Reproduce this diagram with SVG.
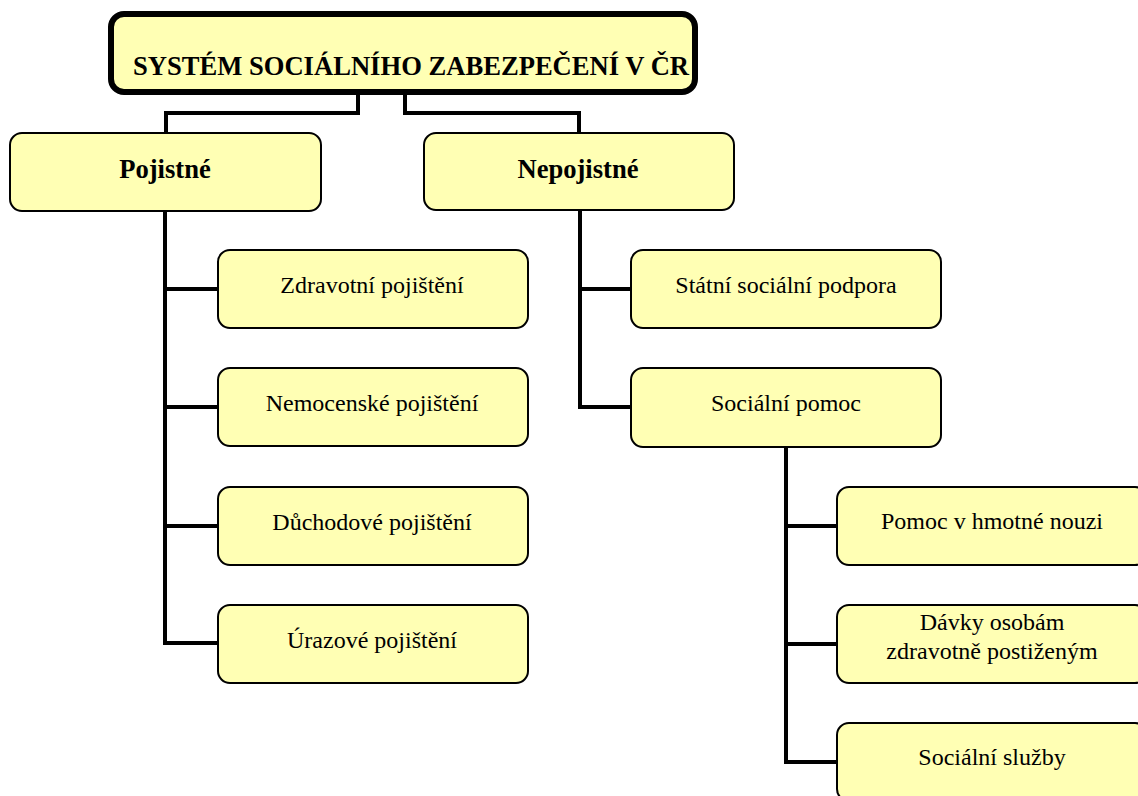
<svg xmlns="http://www.w3.org/2000/svg" width="1138" height="796" viewBox="0 0 1138 796">
<style>
.box{fill:#FFFFB4;stroke:#000;stroke-width:2}
.top{fill:#FFFFB4;stroke:#000;stroke-width:6}
.conn{fill:none;stroke:#000;stroke-width:4;stroke-linejoin:miter;stroke-linecap:square}
text{font-family:"Liberation Serif","Times New Roman",serif;fill:#000;text-anchor:middle}
.t{font-size:24px}
.b{font-size:26.6px;font-weight:bold}
</style>
<rect width="1138" height="796" fill="#fff"/>
<g id="connectors">
<path class="conn" d="M358,95 V113 H166 V132"/>
<path class="conn" d="M405,95 V113 H579 V132"/>
<path class="conn" d="M165,211 V643 H217 M165,289 H217 M165,407 H217 M165,526 H217"/>
<path class="conn" d="M580,210 V407 H631 M580,289 H631"/>
<path class="conn" d="M786,447 V762 H837 M786,526 H837 M786,644 H837"/>
</g>
<g id="root">
<rect class="top" x="111" y="14" width="584" height="78" rx="13"/>
<text class="b" x="411" y="75">SYSTÉM SOCIÁLNÍHO ZABEZPEČENÍ V ČR</text>
</g>
<g id="pojistne">
<rect class="box" x="10" y="133" width="311" height="78" rx="12"/>
<text class="b" x="165" y="178">Pojistné</text>
</g>
<g id="nepojistne">
<rect class="box" x="424" y="133" width="310" height="77" rx="12"/>
<text class="b" x="578" y="178">Nepojistné</text>
</g>
<g id="zdravotni">
<rect class="box" x="218" y="250" width="310" height="78" rx="12"/>
<text class="t" x="372" y="293">Zdravotní pojištění</text>
</g>
<g id="nemocenske">
<rect class="box" x="218" y="368" width="310" height="78" rx="12"/>
<text class="t" x="372" y="411">Nemocenské pojištění</text>
</g>
<g id="duchodove">
<rect class="box" x="218" y="487" width="310" height="78" rx="12"/>
<text class="t" x="372" y="530">Důchodové pojištění</text>
</g>
<g id="urazove">
<rect class="box" x="218" y="605" width="310" height="78" rx="12"/>
<text class="t" x="372" y="648">Úrazové pojištění</text>
</g>
<g id="statni">
<rect class="box" x="631" y="250" width="310" height="78" rx="12"/>
<text class="t" x="786" y="293">Státní sociální podpora</text>
</g>
<g id="socialni-pomoc">
<rect class="box" x="631" y="368" width="310" height="79" rx="12"/>
<text class="t" x="786" y="411">Sociální pomoc</text>
</g>
<g id="hmotna-nouze">
<rect class="box" x="837" y="487" width="310" height="78" rx="12"/>
<text class="t" x="992" y="529">Pomoc v hmotné nouzi</text>
</g>
<g id="davky">
<rect class="box" x="837" y="605" width="310" height="78" rx="12"/>
<text class="t" x="992" y="630">Dávky osobám</text>
<text class="t" x="992" y="659">zdravotně postiženým</text>
</g>
<g id="sluzby">
<rect class="box" x="837" y="723" width="310" height="78" rx="12"/>
<text class="t" x="992" y="765">Sociální služby</text>
</g>
</svg>
